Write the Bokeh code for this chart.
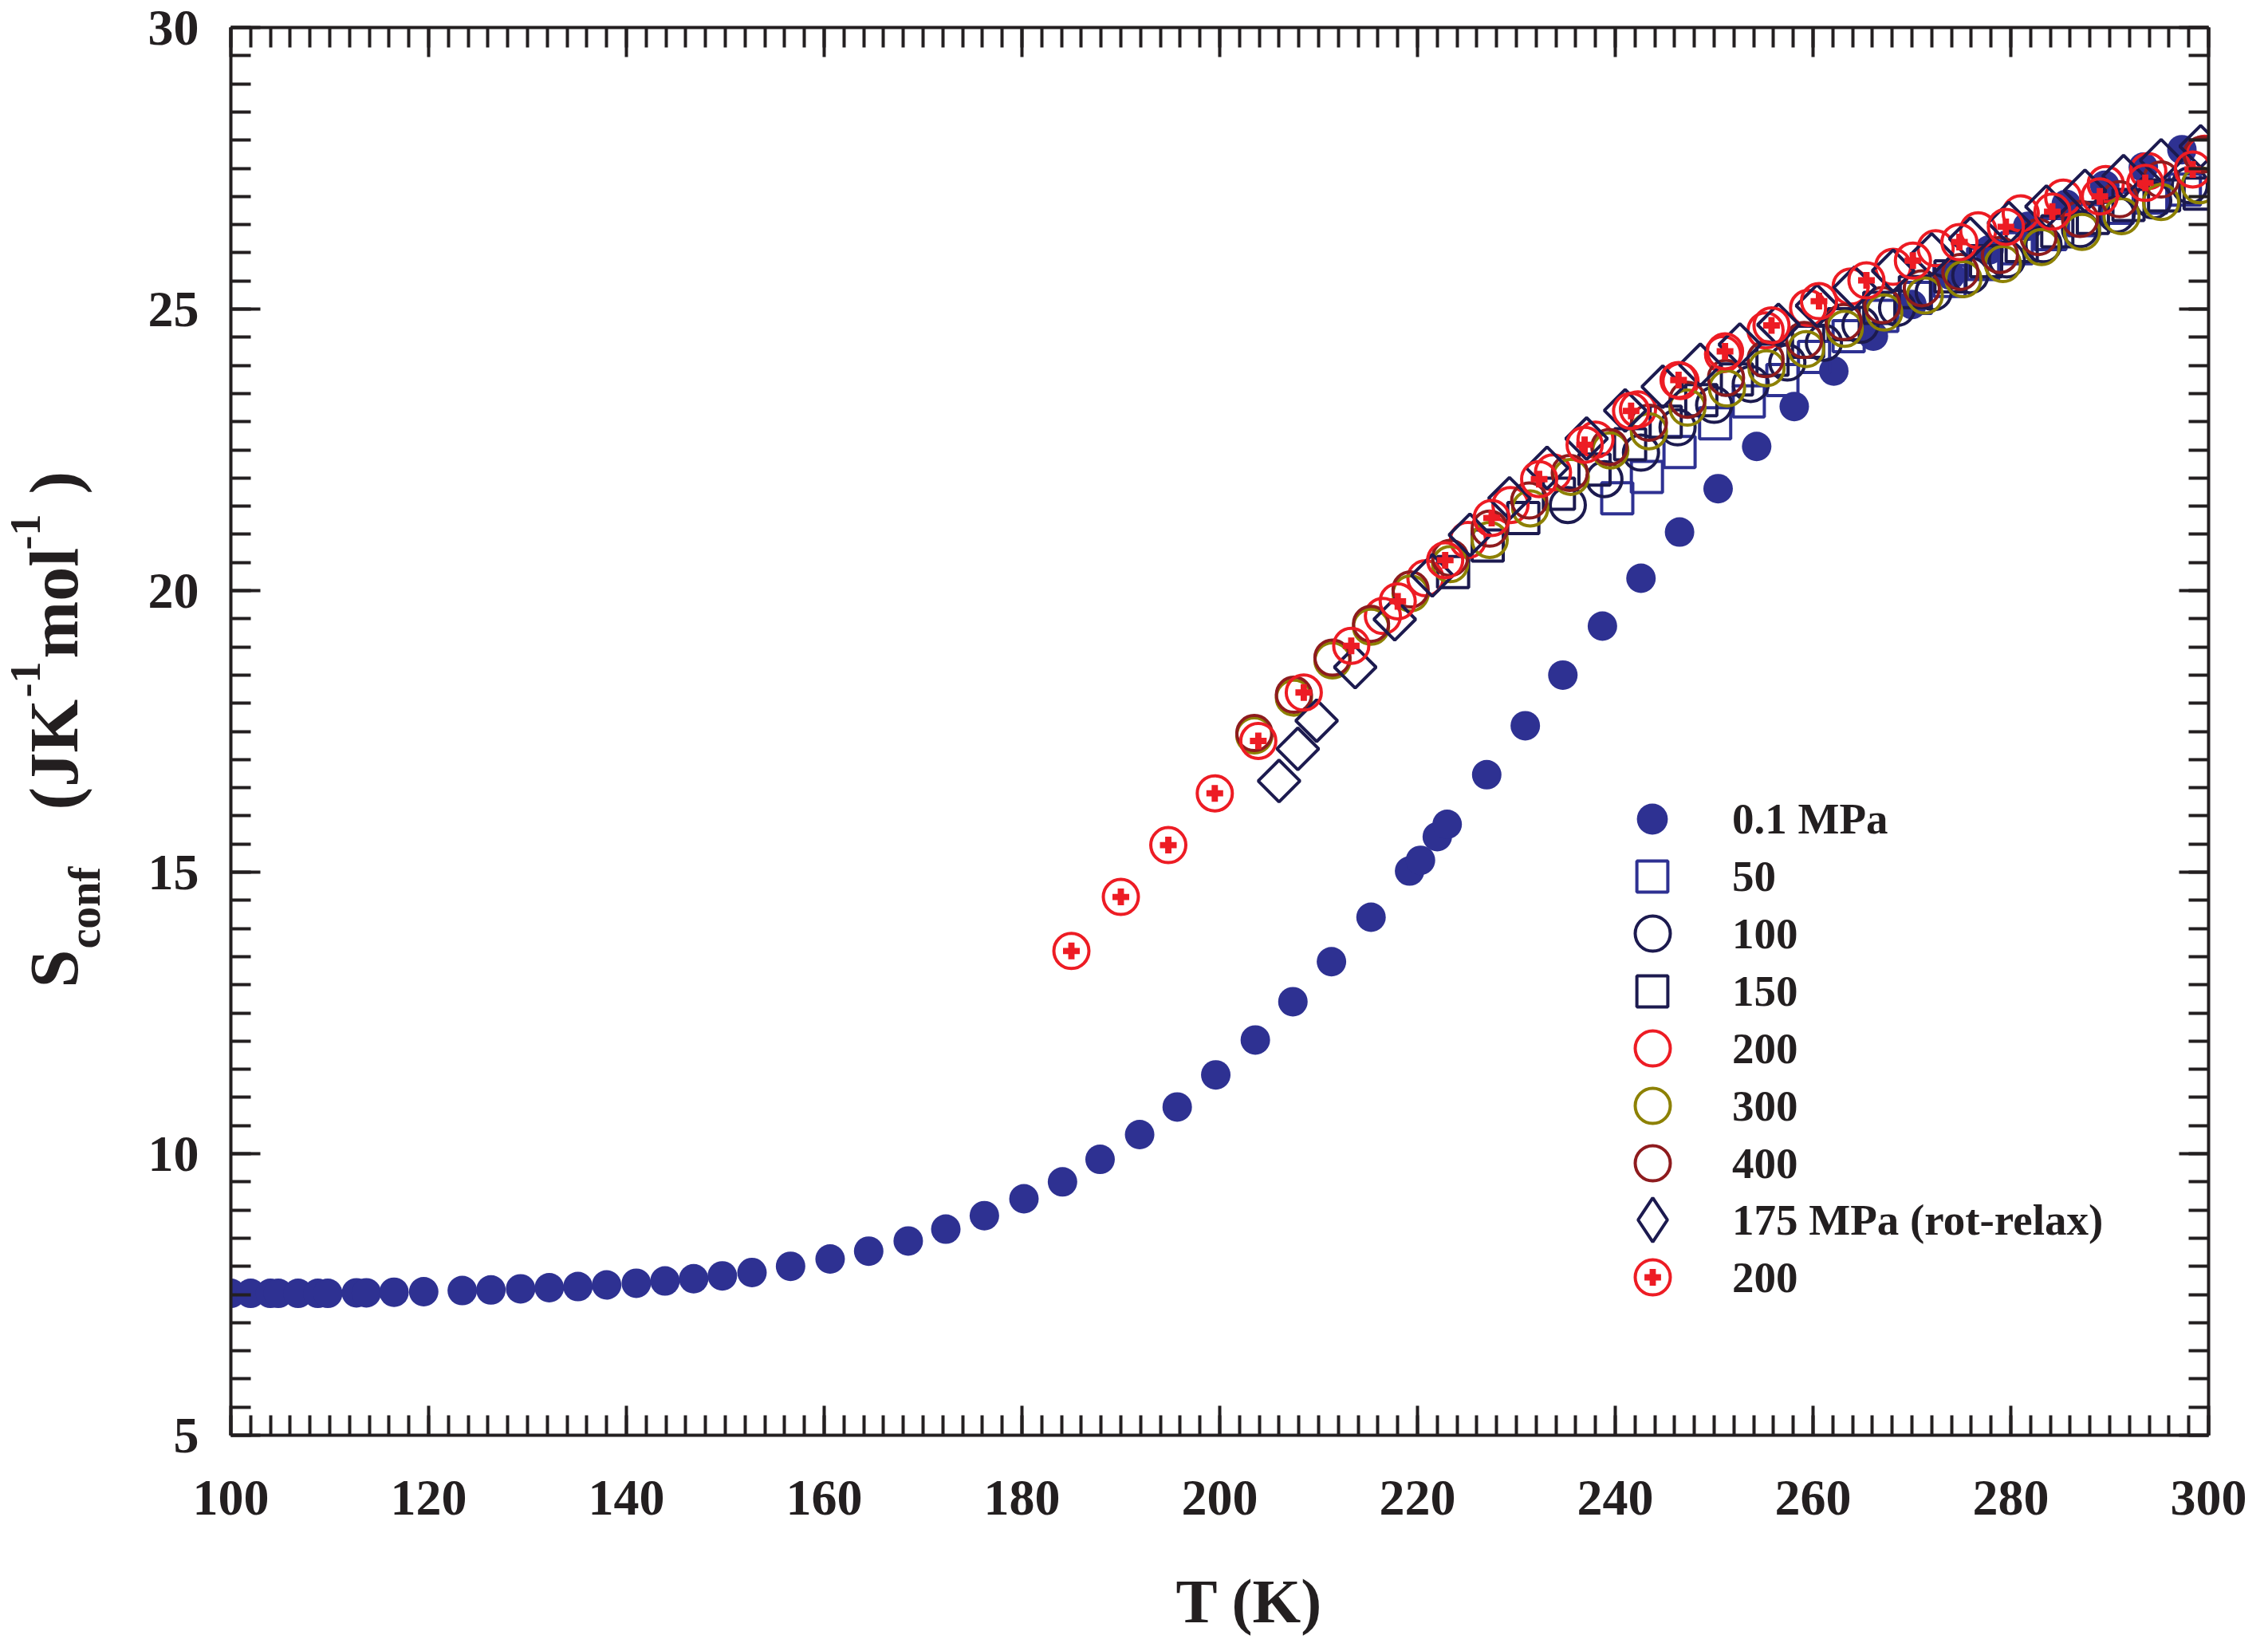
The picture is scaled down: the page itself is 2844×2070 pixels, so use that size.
import numpy as np
from bokeh.plotting import figure
from bokeh.layouts import row, column
from bokeh.models import (Range1d, LinearAxis, SingleIntervalTicker, Legend,
                          LegendItem, Label)
from bokeh.embed import file_html
from bokeh.resources import INLINE

# ---------------- data ----------------
T_01 = [100.0, 102.0, 104.0, 104.8, 106.8, 108.8, 109.8, 112.7, 113.7, 116.5,
        119.5, 123.4, 126.3, 129.3, 132.2, 135.1, 138.0, 141.0, 143.9, 146.8,
        149.7, 152.7, 156.6, 160.6, 164.5, 168.5, 172.3, 176.2, 180.2, 184.1,
        187.9, 191.9, 195.7, 199.6, 203.6, 207.4, 211.3, 215.3, 219.2, 220.3,
        222.0, 223.0, 227.0, 230.9, 234.7, 238.7, 242.6, 246.5, 250.4, 254.3,
        258.1, 262.1, 266.1, 270.0, 273.9, 277.8, 281.7, 285.6, 289.5, 293.4,
        297.3]
S_01 = [7.52, 7.52, 7.52, 7.52, 7.52, 7.52, 7.52, 7.53, 7.53, 7.54,
        7.55, 7.57, 7.58, 7.60, 7.62, 7.64, 7.67, 7.70, 7.74, 7.78,
        7.83, 7.89, 8.00, 8.13, 8.27, 8.45, 8.66, 8.90, 9.20, 9.50,
        9.90, 10.34, 10.83, 11.40, 12.02, 12.70, 13.41, 14.20, 15.02, 15.21,
        15.63, 15.85, 16.73, 17.60, 18.50, 19.37, 20.22, 21.04, 21.81, 22.56,
        23.27, 23.90, 24.52, 25.08, 25.60, 26.05, 26.47, 26.86, 27.20, 27.52,
        27.83]

T_50 = [240.2, 243.2, 246.5, 250.1, 253.5, 256.9, 260.1, 263.6, 267.0, 270.4,
        273.8, 277.2, 280.6, 284.0, 287.4, 290.8, 294.2, 297.6]
S_50 = [21.64, 22.02, 22.46, 22.97, 23.36, 23.74, 24.15, 24.52, 24.88, 25.20,
        25.50, 25.80, 26.08, 26.33, 26.58, 26.80, 26.98, 27.12]

T_100 = [235.2, 238.9, 242.6, 246.3, 250.0, 253.7, 257.4, 261.1, 264.8, 268.5,
         272.2, 275.9, 279.6, 283.3, 287.0, 290.7, 294.4, 298.1]
S_100 = [21.52, 21.98, 22.45, 22.90, 23.30, 23.67, 24.05, 24.40, 24.72, 25.02,
         25.30, 25.60, 25.88, 26.15, 26.42, 26.68, 26.93, 27.20]

T_150 = [223.6, 227.1, 230.7, 234.3, 237.9, 241.5, 245.1, 248.7, 252.3, 255.9,
         259.5, 263.1, 266.7, 270.3, 273.9, 277.5, 281.1, 284.7, 288.3, 291.9,
         295.5, 299.1]
S_150 = [20.33, 20.80, 21.29, 21.72, 22.15, 22.60, 23.00, 23.38, 23.75, 24.10,
         24.42, 24.73, 25.02, 25.30, 25.58, 25.85, 26.12, 26.38, 26.62, 26.85,
         27.02, 27.05]

T_200 = [216.5, 220.8, 225.1, 229.4, 233.7, 238.0, 242.3, 246.6, 250.9, 255.2,
         259.5, 263.8, 268.1, 272.4, 276.7, 281.0, 285.3, 289.6, 293.9, 299.6]
S_200 = [19.55, 20.22, 20.90, 21.52, 22.10, 22.68, 23.22, 23.72, 24.20, 24.62,
         25.02, 25.40, 25.75, 26.08, 26.40, 26.70, 26.98, 27.22, 27.45, 27.76]

T_300 = [203.5, 207.5, 211.4, 215.3, 219.3, 223.3, 227.3, 231.4, 235.5, 239.5,
         243.4, 247.3, 251.3, 255.3, 259.3, 263.2, 267.2, 271.3, 275.2, 279.2,
         283.1, 287.2, 291.2, 295.2, 299.1]
S_300 = [17.43, 18.10, 18.76, 19.36, 19.95, 20.47, 20.90, 21.46, 22.02, 22.49,
         22.83, 23.25, 23.59, 23.95, 24.29, 24.65, 24.94, 25.24, 25.53, 25.80,
         26.10, 26.37, 26.65, 26.90, 27.20]

T_400 = [203.5, 207.5, 211.4, 215.3, 219.3, 223.3, 227.3, 231.3, 235.4, 239.4,
         243.4, 247.3, 251.2, 255.2, 259.1, 263.1, 267.0, 271.0, 274.9, 278.9,
         282.8, 287.0, 291.0, 295.2, 299.3]
S_400 = [17.47, 18.15, 18.81, 19.41, 20.02, 20.58, 21.10, 21.60, 22.09, 22.55,
         22.98, 23.39, 23.78, 24.11, 24.45, 24.77, 25.07, 25.37, 25.66, 25.96,
         26.28, 26.60, 26.95, 27.30, 27.74]

T_175 = [206.0, 207.9, 209.8, 213.7, 217.7, 221.5, 225.3, 229.3, 233.1, 237.1,
         241.0, 244.8, 248.6, 252.6, 256.5, 260.4, 264.2, 268.1, 272.0, 275.9,
         279.8, 283.6, 287.5, 291.4, 295.2, 299.2]
S_175 = [16.62, 17.19, 17.69, 18.64, 19.49, 20.27, 20.99, 21.64, 22.18, 22.70,
         23.20, 23.62, 24.01, 24.37, 24.72, 25.06, 25.38, 25.68, 25.97, 26.25,
         26.53, 26.82, 27.10, 27.36, 27.64, 27.89]

T_200R = [185.0, 190.0, 194.8, 199.5, 203.9, 208.5, 213.3, 218.0, 222.8, 227.5,
          232.3, 236.9, 241.6, 246.4, 251.1, 255.8, 260.6, 265.4, 270.1, 274.8,
          279.5, 284.2, 289.0, 293.6, 298.4]
S_200R = [13.60, 14.56, 15.48, 16.40, 17.33, 18.19, 19.02, 19.81, 20.54, 21.29,
          21.98, 22.59, 23.19, 23.74, 24.25, 24.71, 25.14, 25.51, 25.86, 26.19,
          26.46, 26.73, 27.00, 27.24, 27.48]

LABELS = ["0.1 MPa", "50", "100", "150", "200", "300", "400",
          "175 MPa (rot-relax)", "200"]
X_TICKS = list(range(100, 301, 20))
Y_TICKS = list(range(5, 31, 5))

# ---------------- styles ----------------
INK = "#231F20"
BLUE = "#2E3192"
NAVY = "#1C1A4F"
RED = "#ED1C24"
OLIVE = "#8D8103"
DRED = "#8E1B1E"
FONT = "Liberation Serif"

PAGE_W, PAGE_H = 2828, 2054      # total canvas size
YL_W = 150                        # width of the y-title strip
MAIN_W = PAGE_W - YL_W
FRAME_TOP, FRAME_BOT = 42, 1807   # page pixels
FRAME_L, FRAME_R = 297, 2777
MAIN_H = 1949
XL_H = PAGE_H - MAIN_H
BASE_SHIFT = 0.25                 # correction of Bokeh's alphabetic anchor (em)

p = figure(width=MAIN_W, height=MAIN_H, output_backend="svg",
           toolbar_location=None, title=None,
           x_range=Range1d(100, 300), y_range=Range1d(5, 30),
           min_border_left=FRAME_L - 8 - YL_W,
           min_border_right=(8 + YL_W + MAIN_W) - FRAME_R,
           min_border_top=FRAME_TOP - 8,
           min_border_bottom=(8 + MAIN_H) - FRAME_BOT)
p.grid.visible = False
p.outline_line_color = None
p.background_fill_color = "white"
p.border_fill_color = "white"


def style(ax, labelled):
    ax.axis_line_width = 4
    ax.axis_line_color = INK
    ax.major_tick_line_width = 4
    ax.minor_tick_line_width = 4
    ax.major_tick_line_color = INK
    ax.minor_tick_line_color = INK
    ax.major_tick_in = 37
    ax.major_tick_out = 0
    ax.minor_tick_in = 25
    ax.minor_tick_out = 0
    if labelled:
        ax.major_label_text_font = FONT
        ax.major_label_text_font_style = "bold"
        ax.major_label_text_font_size = "64px"
        ax.major_label_text_color = INK
    else:
        ax.major_label_text_font_size = "1px"
        ax.major_label_standoff = 0
        ax.major_label_text_alpha = 0


xa = p.xaxis[0]
ya = p.yaxis[0]
xa.ticker = SingleIntervalTicker(interval=20, num_minor_ticks=10)
ya.ticker = SingleIntervalTicker(interval=5, num_minor_ticks=10)
style(xa, True)
style(ya, True)
xa.major_label_standoff = 57
ya.major_label_standoff = 40

top = LinearAxis(ticker=SingleIntervalTicker(interval=20, num_minor_ticks=10),
                 major_label_overrides={v: "" for v in X_TICKS})
right = LinearAxis(ticker=SingleIntervalTicker(interval=5, num_minor_ticks=10),
                   major_label_overrides={v: "" for v in Y_TICKS})
style(top, False)
style(right, False)
p.add_layout(top, "above")
p.add_layout(right, "right")

# ---------------- glyphs ----------------
r01 = p.scatter(T_01, S_01, marker="circle", size=37,
                fill_color=BLUE, line_color=None)
r50 = p.scatter(T_50, S_50, marker="square", size=39, fill_color=None,
                line_color=BLUE, line_width=4)
r100 = p.scatter(T_100, S_100, marker="circle", size=44, fill_color=None,
                 line_color=NAVY, line_width=4)
r150 = p.scatter(T_150, S_150, marker="square", size=39, fill_color=None,
                 line_color=NAVY, line_width=4)
r200 = p.scatter(T_200, S_200, marker="circle", size=44, fill_color=None,
                 line_color=RED, line_width=4)
r300 = p.scatter(T_300, S_300, marker="circle", size=44, fill_color=None,
                 line_color=OLIVE, line_width=4)
r400 = p.scatter(T_400, S_400, marker="circle", size=44, fill_color=None,
                 line_color=DRED, line_width=4)
r175 = p.scatter(T_175, S_175, marker="square", angle=np.pi / 4, size=37,
                 fill_color=None, line_color=NAVY, line_width=4)
r200c = p.scatter(T_200R, S_200R, marker="circle", size=44, fill_color=None,
                  line_color=RED, line_width=4)
r200p = p.scatter(T_200R, S_200R, marker="plus", size=21,
                  fill_color=RED, line_color=None)
# key-only glyph for the diamond (legend keys are drawn unrotated);
# its single NaN point is never drawn in the plot
r175k = p.scatter(x=np.array([np.nan]), y=np.array([np.nan]),
                  marker="diamond", size=52, fill_color=None,
                  line_color=NAVY, line_width=4)

# ---------------- legend: one small legend per row ----------------
KEY_X, TEXT_X, ROW0, PITCH = 2080, 2180, 1035, 71.75
keys = [(r01, 97), (r50, 97), (r100, 110), (r150, 97), (r200, 110),
        (r300, 110), (r400, 110), (r175k, 138), (r200c, 110)]


def add_key(renderer, box, label, row_i, standoff=None):
    yc = ROW0 + row_i * PITCH
    if standoff is None:
        standoff = int(round(TEXT_X - (KEY_X - box / 2) - box))
    lg = Legend(items=[LegendItem(label=label, renderers=[renderer])],
                location=(int(round(KEY_X - box / 2 - FRAME_L)),
                          int(round(FRAME_BOT - (yc + box / 2)))),
                glyph_width=int(box), glyph_height=int(box),
                padding=0, margin=0, spacing=0, label_standoff=standoff,
                label_text_font=FONT, label_text_font_style="bold",
                label_text_font_size="55px", label_text_color=INK,
                border_line_color=None, background_fill_alpha=0)
    p.add_layout(lg)
    return lg


for i, ((r, box), lab) in enumerate(zip(keys, LABELS)):
    add_key(r, box, lab, i)

# small filled plus inside the last key circle
plus_leg = add_key(r200p, 52, " ", 8, standoff=0)
plus_leg.label_width = 1
plus_leg.label_height = 1
plus_leg.label_text_font_size = "1px"

# ---------------- y-axis title strip (rotated, with sub/superscripts) -------
fy = figure(width=YL_W, height=PAGE_H, output_backend="svg",
            toolbar_location=None, title=None, x_range=Range1d(0, YL_W),
            y_range=Range1d(0, PAGE_H), min_border=0,
            x_axis_location=None, y_axis_location=None)
fy.grid.visible = False
fy.outline_line_color = None
fy.background_fill_color = "white"
fy.border_fill_color = "white"


def ylab(text, size, bx, y0):
    fy.add_layout(Label(x=bx - 8 - BASE_SHIFT * size, y=(8 + PAGE_H) - y0,
                        text=text, angle=90, angle_units="deg",
                        text_font=FONT, text_font_style="bold",
                        text_font_size=f"{size}px", text_color=INK,
                        text_align="left", text_baseline="alphabetic"))


ylab("S", 86, 97, 1246)
ylab("conf", 56, 127, 1197)
ylab("(JK", 86, 97, 1023)
ylab("-1", 54, 53, 882)
ylab("mol", 86, 97, 833)
ylab("-1", 54, 53, 697)
ylab(")", 86, 97, 627)

# ---------------- x-axis title strip ----------------
fx = figure(width=MAIN_W, height=XL_H, output_backend="svg",
            toolbar_location=None, title=None, x_range=Range1d(0, MAIN_W),
            y_range=Range1d(0, XL_H), min_border=0,
            x_axis_location=None, y_axis_location=None)
fx.grid.visible = False
fx.outline_line_color = None
fx.background_fill_color = "white"
fx.border_fill_color = "white"
fx.add_layout(Label(x=(FRAME_L + FRAME_R) / 2 - 8 - YL_W,
                    y=(8 + PAGE_H) - (2034 - BASE_SHIFT * 78), text="T (K)",
                    text_font=FONT, text_font_style="bold",
                    text_font_size="78px", text_color=INK,
                    text_align="center", text_baseline="alphabetic"))

layout = row(fy, column(p, fx, spacing=0), spacing=0)
open("out.html", "w").write(file_html(layout, INLINE))
